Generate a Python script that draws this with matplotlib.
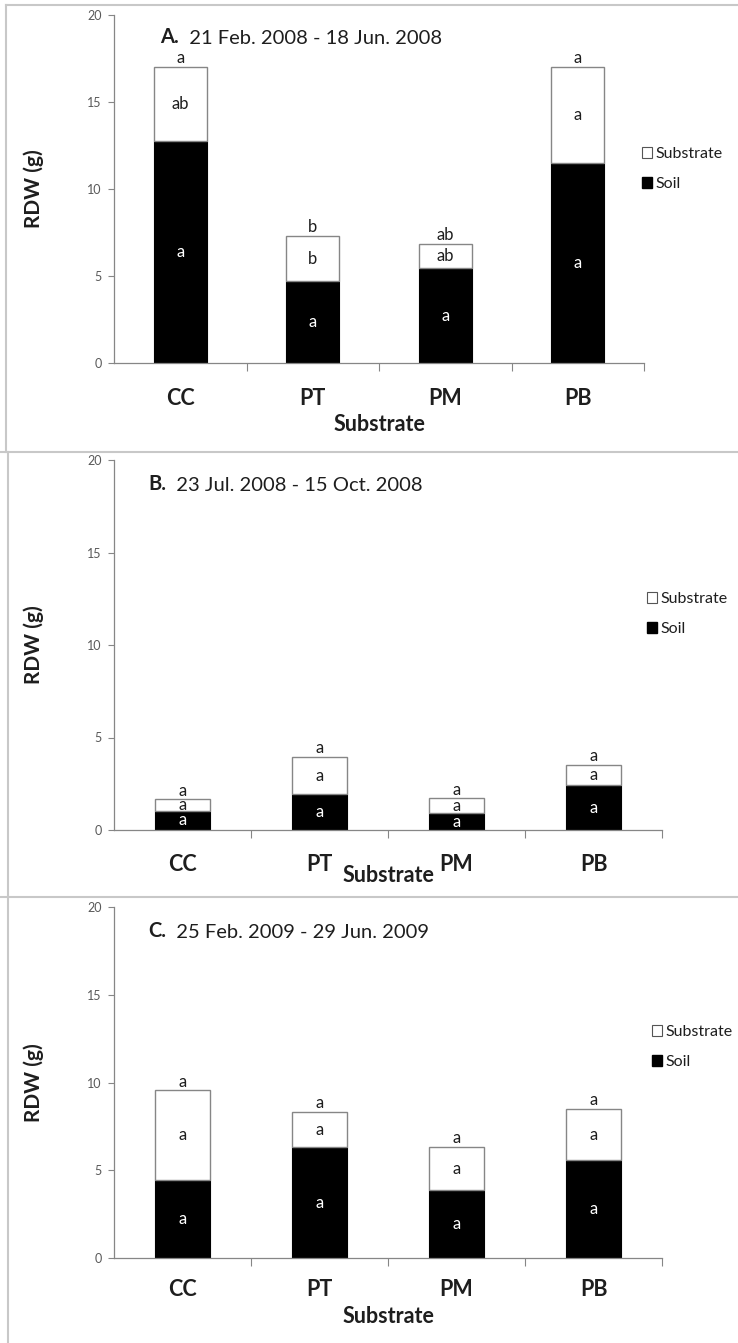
import matplotlib
matplotlib.use("Agg")
import matplotlib.pyplot as plt
from matplotlib.patches import Patch
from matplotlib.lines import Line2D

plt.rcParams['font.family'] = ['Lato', 'DejaVu Sans']

# root dry weight (g) per substrate, split by where the roots grew
categories = ['CC', 'PT', 'PM', 'PB']

titles = ['A.', 'B.', 'C.']
periods = ['21 Feb. 2008 - 18 Jun. 2008',
           '23 Jul. 2008 - 15 Oct. 2008',
           '25 Feb. 2009 - 29 Jun. 2009']

soil_a = [12.75, 4.69, 5.45, 11.52]
total_a = [17.03, 7.29, 6.83, 17.03]
soil_b = [1.03, 1.93, 0.90, 2.43]
total_b = [1.66, 3.96, 1.71, 3.51]
soil_c = [4.44, 6.32, 3.87, 5.57]
total_c = [9.55, 8.32, 6.32, 8.49]

# significance letters: soil part, substrate part, whole plant
soil_letters = [['a', 'a', 'a', 'a'], ['a', 'a', 'a', 'a'], ['a', 'a', 'a', 'a']]
sub_letters = [['ab', 'b', 'ab', 'a'], ['a', 'a', 'a', 'a'], ['a', 'a', 'a', 'a']]
total_letters = [['a', 'b', 'ab', 'a'], ['a', 'a', 'a', 'a'], ['a', 'a', 'a', 'a']]

soils = [soil_a, soil_b, soil_c]
totals = [total_a, total_b, total_c]

W, H = 738, 1343
fig = plt.figure(figsize=(W / 100, H / 100), dpi=100)


def fx(px):
    return px / W


def fy(py):
    return 1 - py / H


# panel frames (left, right, top of y=20, y=0) in pixels
frames = [(114, 644, 15, 363), (114, 662, 460, 830), (114, 662, 907, 1258)]
title_pos = [(160, 37), (148, 484), (148, 931)]
legend_pos = [(634, 169), (639, 614), (644, 1047)]
xlabel_top = [414, 865, 1306]
tick_pad = [18, 17, 15]

axis_grey = '#868686'
text_grey = '#595959'
ink = '#1e1e1e'

for i in range(3):
    left, right, top, bottom = frames[i]
    ax = fig.add_axes([fx(left), fy(bottom), (right - left) / W, (bottom - top) / H])
    soil = soils[i]
    total = totals[i]
    substrate = [t - s for t, s in zip(total, soil)]
    x = range(len(categories))

    ax.bar(x, soil, width=0.4, color='black', edgecolor='black', linewidth=0.8, zorder=2)
    ax.bar(x, substrate, width=0.4, bottom=soil, color='white',
           edgecolor=axis_grey, linewidth=1.0, zorder=2)

    for j in x:
        ax.text(j, soil[j] / 2, soil_letters[i][j], color='white',
                ha='center', va='center', fontsize=12, zorder=3)
        ax.text(j, soil[j] + substrate[j] / 2, sub_letters[i][j], color=ink,
                ha='center', va='center', fontsize=12, zorder=3)
        ax.annotate(total_letters[i][j], (j, total[j]), xytext=(0, 0.5),
                    textcoords='offset points', ha='center', va='bottom',
                    fontsize=12, color=ink)

    ax.set_xlim(-0.5, 3.5)
    ax.set_ylim(0, 20)
    ax.set_yticks([0, 5, 10, 15, 20])
    ax.tick_params(axis='y', direction='out', length=4, width=0.8,
                   colors=axis_grey, labelcolor=text_grey, labelsize=9, pad=5)

    ax.set_xticks(list(x))
    ax.set_xticklabels(categories, fontsize=15.5, fontweight='bold', color=ink)
    ax.tick_params(axis='x', length=0, pad=tick_pad[i])
    ax.set_xticks([0.5, 1.5, 2.5, 3.5], minor=True)
    ax.tick_params(axis='x', which='minor', direction='out', length=6,
                   width=0.8, color=axis_grey)

    for side in ['top', 'right']:
        ax.spines[side].set_visible(False)
    for side in ['left', 'bottom']:
        ax.spines[side].set_color(axis_grey)
        ax.spines[side].set_linewidth(0.9)

    axh = bottom - top
    axw = right - left
    ax.set_xlabel('Substrate', fontsize=15.5, fontweight='bold', color=ink)
    ax.xaxis.set_label_coords(0.5, -(xlabel_top[i] - bottom) / axh)
    ax.set_ylabel('RDW (g)', fontsize=15, fontweight='bold', color=ink)
    ax.yaxis.set_label_coords((44 - left) / axw, 0.5)

    tx, ty = title_pos[i]
    t1 = fig.text(fx(tx), fy(ty), titles[i], fontsize=14.5, fontweight='bold',
                  color=ink, va='center', ha='left')
    ax.annotate('  ' + periods[i], xy=(1, 0), xycoords=t1, va='bottom',
                ha='left', fontsize=14.5, color=ink)

    handles = [Patch(facecolor='white', edgecolor='#555555', linewidth=0.8, label='Substrate'),
               Patch(facecolor='black', edgecolor='black', label='Soil')]
    lx, ly = legend_pos[i]
    fig.legend(handles=handles, loc='center left', bbox_to_anchor=(fx(lx), fy(ly)),
               frameon=False, fontsize=11.5, handlelength=0.65, handleheight=0.65,
               handletextpad=0.2, labelspacing=1.0, borderpad=0, labelcolor=ink)

# light frames around the three panels
frame_col = '#c8c8c8'
segments = [((6, 738), (5, 5)), ((6, 6), (5, 452)), ((0, 738), (452, 452)),
            ((8, 8), (452, 1343)), ((0, 738), (897, 897))]
for (xs, ys) in segments:
    fig.add_artist(Line2D([fx(v) for v in xs], [fy(v) for v in ys],
                          color=frame_col, linewidth=1.5))

fig.savefig('out.png', dpi=100)
